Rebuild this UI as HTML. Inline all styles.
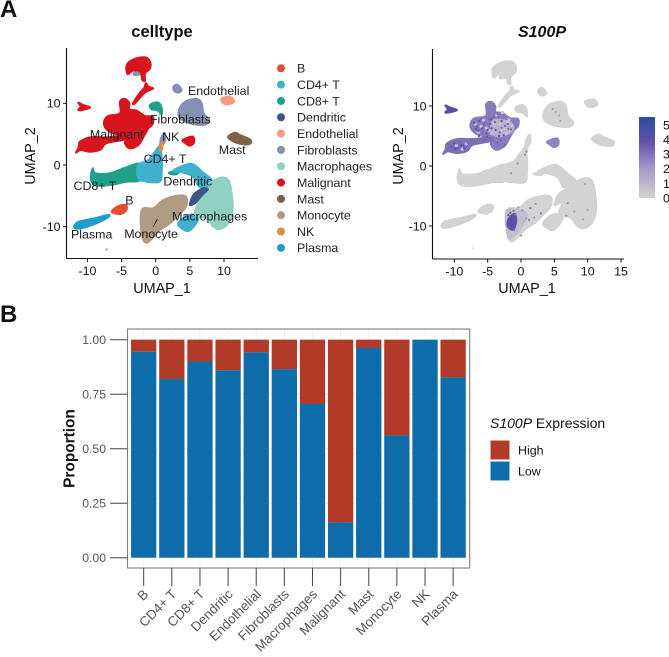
<!DOCTYPE html>
<html lang="en">
<head>
<meta charset="utf-8">
<title>S100P expression across cell types</title>
<style>
html,body{margin:0;padding:0;background:#fff;width:669px;height:657px;overflow:hidden}
svg{display:block;font-family:"Liberation Sans",Arial,sans-serif}
text{fill:#111}
</style>
</head>
<body>
<svg id="fig" width="669" height="657" viewBox="0 0 669 657" xmlns="http://www.w3.org/2000/svg">
  <defs>
    <linearGradient id="expr-gradient" x1="0" y1="1" x2="0" y2="0">
      <stop offset="0" stop-color="#d3d3d3"/>
      <stop offset="0.35" stop-color="#a99bcb"/>
      <stop offset="0.7" stop-color="#5f50a6"/>
      <stop offset="1" stop-color="#2b4ea2"/>
    </linearGradient>
  </defs>
  <text x="0" y="17" font-size="24" font-weight="700">A</text>
  <text x="0" y="322" font-size="24" font-weight="700">B</text>
  <text x="162" y="37" font-size="16.5" font-weight="700" text-anchor="middle">celltype</text>
  <text x="542" y="37" font-size="16" font-weight="700" font-style="italic" text-anchor="middle">S100P</text>
  <g id="left-umap"></g>
  <g id="right-umap"></g>
  <g id="celltype-legend"></g>
  <g>
    <rect x="639" y="117" width="16" height="81" fill="url(#expr-gradient)"/>
    <g id="colorbar-labels" font-size="12.4"></g>
  </g>
  <g id="bar-chart"></g>
  <g>
    <text x="490" y="428" font-size="14"><tspan font-style="italic">S100P</tspan> Expression</text>
    <rect x="490.5" y="440.5" width="19" height="19" fill="#b13a28" stroke="#e0a79c" stroke-width="0.6"/>
    <rect x="490.5" y="461.5" width="19" height="19" fill="#0f6cab" stroke="#9cc3de" stroke-width="0.6"/>
    <text x="518" y="454.5" font-size="12.4">High</text>
    <text x="518" y="475.5" font-size="12.4">Low</text>
  </g>
</svg>
<script>
// ---------- UMAP data (UMAP coordinates) ----------
const celltypes = ["B","CD4+ T","CD8+ T","Dendritic","Endothelial","Fibroblasts","Macrophages","Malignant","Mast","Monocyte","NK","Plasma"];
const celltypeColors = ["#e64b35","#3fb1cf","#1fa088","#3c5488","#f39b7f","#8491b4","#91d1c2","#d8141f","#7e6148","#b09c85","#e08b40","#1f9dd0"];

const outlineMalignantTop = [[-4.25,16.2],[-3.28,17.1],[-1.57,17.47],[-0.83,16.75],[-0.83,15.68],[-1.57,14.87],[-1.57,13.67],[-1.96,13.8],[-2.2,14.76],[-3.28,15.3],[-4.1,14.76]];
const outlineFibroInset = [[-3.2,14.9],[-2.6,15],[-2.4,14.7],[-3.1,14.6]];
const outlineMalignantStem = [[-1.42,13.24],[-1.08,12.7],[-0.35,12.43],[-1.08,12.05],[-1.71,11.62],[-3.03,10],[-3.28,10.1],[-2.2,11.89],[-1.71,12.43]];
const outlineMalignantSmall = [[-11.33,10.1],[-10.6,9.73],[-9.62,9.35],[-10.35,9.03],[-11.33,8.9],[-10.98,9.46]];
const outlineMalignantMain = [[-5.23,10.27],[-4.49,10.7],[-3.86,10],[-3.86,9.03],[-2.78,8.8],[-1.57,7.95],[-0.44,7.83],[-0.44,6.65],[-1.08,5.95],[-1.81,4.49],[-2.55,3.24],[-3.76,2.7],[-4.49,3.51],[-4.49,4.6],[-6.44,5.24],[-7.42,6.11],[-7.52,7.19],[-6.94,7.95],[-5.23,8.38]];
const outlineMalignantLobe = [[-11.08,3.78],[-9.62,4.49],[-7.9,4.49],[-7.17,4.49],[-4.49,4.75],[-4.49,4.16],[-7.28,3.51],[-8.05,2.54],[-9.62,2.16],[-10.98,2.43],[-11.67,2],[-11.33,2.7],[-11.23,3.24]];
const outlineMalignantRight = [[3.95,4.05],[5.4,4.6],[5.6,3.6],[4.93,3.13],[4.3,3.6]];
const outlineCD8Main = [[-9.2,-0.54],[-8.85,-1.35],[-6.7,-1.35],[-4.7,-0.54],[-2.3,0.16],[-2.3,-2.4],[-4.24,-2.7],[-6.7,-3.24],[-8.85,-3.24],[-9.5,-2.16]];
const outlineCD8Upper = [[-0.83,9.73],[0.15,10.16],[0.78,9.57],[0.88,8.27],[0.24,8.9],[-0.6,9.03]];
const outlineCD8Strip = [[1.9,-1.3],[3.5,-0.8],[3,-1.5]];
const outlineCD4Main = [[-2.54,0],[-1.07,0.8],[-0.1,2.16],[0.54,2.97],[0.88,1.35],[0.88,-1.35],[0.54,-2.7],[-1.3,-2.7],[-2.54,-2.16]];
const outlineCD4Arc = [[2.58,-0.92],[4.29,0],[5.51,0.1],[6.97,-1.25],[8.2,-2.43],[7.85,-3.78],[6.38,-3.52],[5.51,-1.9],[4.04,-1.25]];
const outlineCD4Lower = [[3.31,-9.46],[4.77,-8.1],[6.24,-8.4],[5.75,-9.73],[4.77,-10.7],[3.8,-10.27]];
const outlineDendritic = [[5.75,-4.59],[6.97,-3.78],[7.7,-4.17],[6.97,-5.14],[5.75,-6.2],[5.02,-6.5],[5.27,-5.4]];
const outlineEndothelial = [[9.66,10.8],[10.88,11.08],[11.46,10.27],[10.63,9.84],[9.8,10.1]];
const outlineFibroTop = [[2.6,12.7],[3.17,13],[3.8,12.16],[3.3,11.73],[2.7,12.05]];
const outlineFibroMain = [[3.4,8.9],[4.3,10.27],[6,10.7],[6.73,10],[7,8.4],[7.85,7.2],[7,6.5],[5,6.76],[3.56,7.57]];
const outlineFibroSmall = [[0.7,4.1],[1.3,5.2],[1.4,4],[0.9,3.2]];
const outlineMacrophages = [[7.85,-3.08],[9.41,-2.06],[10.63,-2.43],[11.12,-4.59],[11.27,-7.3],[10.63,-9.46],[9.41,-10.4],[8.44,-10],[7.46,-8.65],[5.75,-8.1],[6.24,-6.2],[7.22,-4.87],[7.95,-4.05]];
const outlineMast = [[10.6,4.5],[11.6,5.24],[12.34,4.86],[13.9,4.05],[13.56,3.35],[11.85,3.6]];
const outlineMonocyte = [[-2.05,-7.3],[-0.34,-7],[1.1,-5.7],[3.07,-5],[4.44,-5.14],[4.44,-6.76],[3.07,-8.4],[2.1,-9.46],[0.63,-10.54],[-1.3,-12.6],[-2.05,-11.08]];
const outlineNK = [[0.6,3.4],[1,3.5],[0.9,2.4],[0.7,2.4]];
const outlineB = [[-6.44,-7.57],[-5.46,-6.65],[-4.34,-6.5],[-4.34,-7.4],[-5.2,-7.95]];
const outlinePlasma = [[-11.95,-10.1],[-11.3,-9.2],[-8.9,-8.65],[-7.07,-8.1],[-6.9,-8.4],[-8.7,-9.46],[-11,-10.27]];

const regionCluster = [7,5,7,7,7,7,7,2,2,2,1,1,1,3,4,5,5,5,6,8,9,10,0,11];
const regionOutline = [outlineMalignantTop,outlineFibroInset,outlineMalignantStem,outlineMalignantSmall,outlineMalignantMain,outlineMalignantLobe,outlineMalignantRight,outlineCD8Main,outlineCD8Upper,outlineCD8Strip,outlineCD4Main,outlineCD4Arc,outlineCD4Lower,outlineDendritic,outlineEndothelial,outlineFibroTop,outlineFibroMain,outlineFibroSmall,outlineMacrophages,outlineMast,outlineMonocyte,outlineNK,outlineB,outlinePlasma];
const regionExpression = [0,0,0,3.7,2.5,2.8,2.3,0,0,0,0,0,0,0,0,0,0,0,0,0,0,0,0,0];

// expression sub-regions, right panel only
const overlayMalignantPale = [[-4.15,7.67],[-1.64,7.38],[-1.15,6],[-2.9,4.9],[-4.4,5.45]];
const overlayMonocyteMild = [[-2.15,-7.33],[0.85,-7.88],[-0.15,-10.67],[-1.65,-12.2],[-2.15,-11.2]];
const overlayMonocyteHot = [[-1.9,-8.72],[-0.9,-7.9],[-0.65,-9.28],[-1.15,-10.67],[-2.05,-10.12]];
const overlayOutlines = [overlayMalignantPale,overlayMonocyteMild,overlayMonocyteHot];
const overlayExpression = [1.1,0.7,3.6];

const highCellU = [-7,-6.6,-6.2,-5.8,-5.4,-5,-4.6,-6.8,-6.4,-6,-5.6,-5.2,-4.8,-4.4,-6.3,-5.7,-5.1,-4.5,-3.9,-3.4,-2.9,-2.4,-1.9,-3.8,-3.2,-2.6,-2,-1.5,-3.6,-3,-2.4,-3.3,-2.9,-4.2,-3.5,-10,-9.5,-9,-8.5,-8,-10.5,-9.8,-9.2,-8.6,-1.9,-1.7,-1.5,-2,-1.6,-1.3,-1.8,-1.4,-1.1,-0.8,-0.4,0.2,0.8,1.4,2.2,3,-1,0,1.2,2,7,8,9.3,10,6.8,9.6,5.2,5.7,4.8,5.9,-0.5,0.6,-1.5,0.8];
const highCellV = [7.2,6.6,7.5,6.3,7.3,6,7,6.2,5.9,7.9,6.9,5.4,7.7,6.3,5,5.6,4.9,7.8,7.3,8.1,7.5,6.7,6.2,6,5.6,5.1,7,6.1,3.9,4.3,3.5,5,6.4,8.2,8.6,3.8,3,3.5,2.9,3.9,3.2,2.8,4,3.4,-8.2,-8.9,-9.5,-9.9,-7.8,-8.5,-10.3,-9.2,-7.5,-8.1,-6.9,-7.4,-8.7,-7,-6.3,-7.9,-10.7,-11.6,-9,-8.6,-6.2,-7.6,-8.9,-7.3,-8.3,-3,9,8.4,9.5,7.5,0.4,1.9,-1.2,2.4];
const highCellExpr = [4,3.5,3.5,4,3,3.5,3.5,4,4,3,3.5,3.5,3,3.5,4,3,3.5,3.5,3.5,3,3.5,3,3,3.5,3,3.5,3,3,3,3,3,3.5,3,3,3,4,3.5,4,3.5,3,3.5,4,3,3.5,4,4,4,3.5,3.5,3.5,3,4,2.5,2.5,2,2,2,2.5,2,2.5,2.5,2,2.5,2,2,1.5,1.5,1.5,2,1.5,1.5,1.5,1.5,1.5,2,2,2,2];
const lowCellU = [-6,-5.2,-4.8,-3.2,-2.6,-2,-1.4,-4,-3,-2.2,-5.6,-6.8,-4.4,-1.8,-3.6,-2.8,-9.7,-8.8,-8.2,-6.4];
const lowCellV = [6.6,6.3,5.9,7,6.2,7.4,6.8,7,5.8,5.5,7.6,7,5.4,7.7,8.5,8.9,3.4,2.8,3.7,5.6];

const labelNames = ["Endothelial","Fibroblasts","Malignant","NK","Mast","CD4+ T","Dendritic","CD8+ T","B","Macrophages","Plasma","Monocyte"];
const labelU = [9.22,3.6,-5.7,2.2,11.2,1.37,4.7,-8.9,-3.85,7.9,-9.37,-0.68];
const labelV = [12.1,7.45,5,4.6,2.5,1.03,-2.65,-3.35,-5.7,-8.32,-11.2,-11.1];
const strayPlasmaU = [-7.2];
const strayPlasmaV = [-13.7];

const leftXTicks = [-10,-5,0,5,10];
const rightXTicks = [-10,-5,0,5,10,15];
const yTicks = [-10,0,10];
const colorbarTicks = [0,1,2,3,4,5];

// ---------- Bar chart data ----------
const barCategories = ["B","CD4+ T","CD8+ T","Dendritic","Endothelial","Fibroblasts","Macrophages","Malignant","Mast","Monocyte","NK","Plasma"];
const lowProportion = [0.945,0.82,0.9,0.86,0.942,0.865,0.705,0.162,0.962,0.561,1.0,0.827];
const proportionTicks = ["0.00","0.25","0.50","0.75","1.00"];

// ---------- helpers ----------
const NS = "http://www.w3.org/2000/svg";
function make(parent, tag, attrs, txt){
  const el = document.createElementNS(NS, tag);
  for (const k in attrs) el.setAttribute(k, attrs[k]);
  if (txt !== undefined) el.textContent = txt;
  parent.appendChild(el);
  return el;
}
function slug(s){ return s.toLowerCase().replace(/\+/g,'').replace(/\s+/g,'-'); }
// closed Catmull-Rom curve through the outline points
function blobPath(pts, X, Y){
  const q = pts.map(p=>[X(p[0]),Y(p[1])]);
  const n = q.length;
  let d = "M"+q[0][0].toFixed(1)+" "+q[0][1].toFixed(1);
  for (let i=0;i<n;i++){
    const p0=q[(i-1+n)%n],p1=q[i],p2=q[(i+1)%n],p3=q[(i+2)%n];
    const c1x=p1[0]+(p2[0]-p0[0])/6,c1y=p1[1]+(p2[1]-p0[1])/6;
    const c2x=p2[0]-(p3[0]-p1[0])/6,c2y=p2[1]-(p3[1]-p1[1])/6;
    d+="C"+c1x.toFixed(1)+" "+c1y.toFixed(1)+" "+c2x.toFixed(1)+" "+c2y.toFixed(1)+" "+p2[0].toFixed(1)+" "+p2[1].toFixed(1);
  }
  return d+"Z";
}
function exprColor(v){
  const stops = [[0,[211,211,211]],[1.75,[169,155,203]],[3.5,[95,80,166]],[5,[43,78,162]]];
  for (let i=1;i<stops.length;i++){
    if (v<=stops[i][0]){
      const t=(v-stops[i-1][0])/(stops[i][0]-stops[i-1][0]);
      const c=stops[i-1][1].map((a,j)=>Math.round(a+(stops[i][1][j]-a)*t));
      return "rgb("+c.join(",")+")";
    }
  }
  return "rgb(43,78,162)";
}
function drawAxes(g, X, Y, axis, xTicks, xName, yX){
  const ax = make(g,"line",{x1:axis.left,x2:axis.left,y1:axis.top,y2:axis.bottom,stroke:"#111","stroke-width":1.1});
  
  
  const bx = make(g,"line",{x1:axis.left,x2:axis.right,y1:axis.bottom,y2:axis.bottom,stroke:"#111","stroke-width":1.1});
  
  
  xTicks.forEach(t=>{
    make(g,"line",{x1:X(t),x2:X(t),y1:axis.bottom,y2:axis.bottom+3.5,stroke:"#111","stroke-width":1});
    const lb = make(g,"text",{x:X(t),y:axis.bottom+16.5,"font-size":12.4,"text-anchor":"middle"},String(t));
    
    
  });
  yTicks.forEach(t=>{
    make(g,"line",{x1:axis.left-3.5,x2:axis.left,y1:Y(t),y2:Y(t),stroke:"#111","stroke-width":1});
    const lb = make(g,"text",{x:axis.left-6,y:Y(t)+4.4,"font-size":12.4,"text-anchor":"end"},String(t));
    
    
  });
  const xt = make(g,"text",{x:xName,y:293,"font-size":14.4,"text-anchor":"middle"},"UMAP_1");
  
  
  const yt = make(g,"text",{x:0,y:0,"font-size":14.4,"text-anchor":"middle",transform:"translate("+yX+",156) rotate(-90)"},"UMAP_2");
  
  
}

// ---------- left UMAP ----------
(function(){
  const g = document.getElementById("left-umap");
  const X = u => 155.7+6.83*u;
  const Y = v => 165-6.167*v;
  regionOutline.forEach((pts,i)=>{
    const c = celltypeColors[regionCluster[i]];
    const p = make(g,"path",{d:blobPath(pts,X,Y),fill:c,stroke:c,"stroke-width":2,"stroke-linejoin":"round"});
    
    
  });
  strayPlasmaU.forEach((u,i)=>{
    const d = make(g,"circle",{cx:X(u),cy:Y(strayPlasmaV[i]),r:1,fill:celltypeColors[11]});
    
    
  });
  const conn = make(g,"line",{x1:X(-0.34),y1:Y(-10),x2:X(0.24),y2:Y(-8.76),stroke:"#111","stroke-width":0.8});
  
  
  labelNames.forEach((n,i)=>{
    const t = make(g,"text",{x:X(labelU[i]),y:Y(labelV[i])+4.4,"font-size":12.4,"text-anchor":"middle",style:"fill:#1c1c1c"},n);
    
    
  });
  drawAxes(g,X,Y,{left:66.5,right:258,top:48,bottom:258.5},leftXTicks,162,35);
})();

// ---------- right UMAP ----------
(function(){
  const g = document.getElementById("right-umap");
  const X = u => 521+6.67*u;
  const Y = v => 166-6*v;
  regionOutline.forEach((pts,i)=>{
    const c = exprColor(regionExpression[i]);
    const p = make(g,"path",{d:blobPath(pts,X,Y),fill:c,stroke:c,"stroke-width":2,"stroke-linejoin":"round"});
    
    
  });
  overlayOutlines.forEach((pts,i)=>{
    const p = make(g,"path",{d:blobPath(pts,X,Y),fill:exprColor(overlayExpression[i]),stroke:exprColor(overlayExpression[i]),"stroke-width":1,"stroke-linejoin":"round"});
    
    
  });
  lowCellU.forEach((u,i)=>{
    const d = make(g,"circle",{cx:X(u),cy:Y(lowCellV[i]),r:1.6,fill:"#c4c2d6"});
    
    
  });
  highCellU.forEach((u,i)=>{
    const d = make(g,"circle",{cx:X(u),cy:Y(highCellV[i]),r:1.1,fill:exprColor(highCellExpr[i])});
    
    
  });
  strayPlasmaU.forEach((u,i)=>{
    const d = make(g,"circle",{cx:X(u),cy:Y(strayPlasmaV[i]),r:0.9,fill:"#d3d3d3"});
    
    
  });
  drawAxes(g,X,Y,{left:432.5,right:624,top:49,bottom:259},rightXTicks,527,403);
})();

// ---------- cell-type legend ----------
(function(){
  const g = document.getElementById("celltype-legend");
  celltypes.forEach((n,i)=>{
    const y = 68.3+i*16.32;
    const d = make(g,"circle",{cx:281,cy:y,r:4,fill:celltypeColors[i]});
    
    
    const t = make(g,"text",{x:297,y:y+4.4,"font-size":12.4,style:"fill:#222"},n);
    
    
  });
})();

// ---------- colorbar labels ----------
(function(){
  const g = document.getElementById("colorbar-labels");
  const Y = v => 198-14.6*v;
  colorbarTicks.forEach(v=>{
    const t = make(g,"text",{x:663,y:Y(v)+4.4},String(v));
    
    
  });
})();

// ---------- bar chart ----------
(function(){
  const g = document.getElementById("bar-chart");
  const left=127.5,right=469.7,top=329,bottom=568;
  const X = i => 143.7+28.13*i;
  const Y = v => 557.7-218*v;
  const bw = 25.3;
  const panel = make(g,"rect",{x:left,y:top,width:right-left,height:bottom-top,fill:"#fff"});
  
  
  proportionTicks.forEach((t,i)=>{
    const v = parseFloat(t);
    make(g,"line",{x1:left,x2:right,y1:Y(v),y2:Y(v),stroke:"#ececec","stroke-width":0.8});
    if (i<proportionTicks.length-1) make(g,"line",{x1:left,x2:right,y1:Y(v+0.125),y2:Y(v+0.125),stroke:"#f3f3f3","stroke-width":0.5});
  });
  barCategories.forEach((c,i)=>{
    make(g,"line",{x1:X(i),x2:X(i),y1:top,y2:bottom,stroke:"#ececec","stroke-width":0.8});
  });
  barCategories.forEach((c,i)=>{
    const low = lowProportion[i];
    if (low<1){
      const h = make(g,"rect",{x:X(i)-bw/2,y:Y(1),width:bw,height:Y(low)-Y(1),fill:"#b13a28"});
      
      
    }
    const l = make(g,"rect",{x:X(i)-bw/2,y:Y(low),width:bw,height:Y(0)-Y(low),fill:"#0f6cab"});
    
    
  });
  const border = make(g,"rect",{x:left,y:top,width:right-left,height:bottom-top,fill:"none",stroke:"#7f7f7f","stroke-width":1.1});
  
  
  proportionTicks.forEach(t=>{
    const v = parseFloat(t);
    make(g,"line",{x1:110,x2:left,y1:Y(v),y2:Y(v),stroke:"#444","stroke-width":1});
    const lb = make(g,"text",{x:106,y:Y(v)+4.3,"font-size":12.2,"text-anchor":"end",style:"fill:#555"},t);
    
    
  });
  barCategories.forEach((c,i)=>{
    make(g,"line",{x1:X(i),x2:X(i),y1:bottom,y2:586,stroke:"#444","stroke-width":1});
    const lb = make(g,"text",{x:0,y:0,"font-size":13.4,"text-anchor":"end",style:"fill:#555",transform:"translate("+(X(i)+5.5)+",595) rotate(-45)"},c);
    
    
  });
  const yt = make(g,"text",{x:0,y:0,"font-size":15.4,"font-weight":700,"text-anchor":"middle",transform:"translate(74.5,448.5) rotate(-90)"},"Proportion");
  
  
})();
</script>
</body>
</html>
